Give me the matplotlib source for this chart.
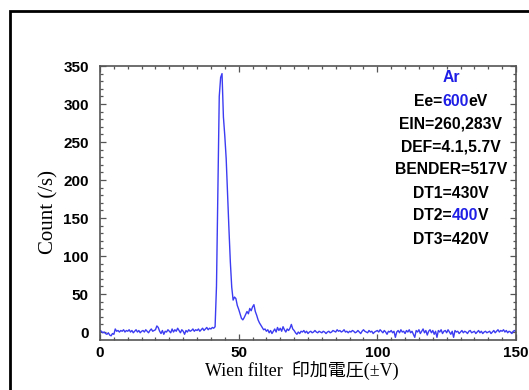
import numpy as np
import matplotlib
matplotlib.use("Agg")
import matplotlib.pyplot as plt
from matplotlib.patches import Rectangle
from matplotlib.offsetbox import TextArea, HPacker, AnnotationBbox

# Wien filter voltage, 0.5 V steps
voltage = np.arange(0, 150.5, 0.5)
counts = [
    2, 1, -1, 0, -2, -3, -1, -4, -5, -2, -3, 4, 1, 2, 0, 2, 1, 3, 0, 2,
    1, 3, 0, 2, -1, 1, 3, 0, 2, -1, 1, 2, 0, 3, 1, -1, 2, 4, 1, 2,
    3, 8, 6, 1, -2, 2, -3, 1, 0, 3, 1, -1, 4, 0, 3, 1, 5, 2, -1, 3,
    1, -3, 2, 0, 3, 1, 2, 4, 1, 3, 2, 4, 1, 3, 5, 2, 4, 6, 3, 5,
    4, 6, 5, 7, 60, 190, 310, 335, 340, 283, 258, 228, 180, 135, 92, 59, 42, 46, 44, 35,
    30, 24, 18, 16, 19, 23, 27, 24, 31, 28, 33, 36, 27, 22, 16, 12, 9, 6, 3, 4,
    1, 3, -1, 2, -2, 1, 4, 0, 6, 2, 5, 1, 7, 3, 0, 4, 2, 5, 10, 4,
    2, -1, -3, 0, -2, 1, 0, 2, -1, 1, -2, 0, 1, -1, 0, 2, 0, -1, 1, 0,
    -1, 1, 0, -2, 0, 1, -1, 0, 2, 1, 0, 3, 1, 2, 0, 1, 3, 0, 1, -1,
    1, 0, 2, 1, -1, 0, 2, 0, -2, 1, 3, 1, 0, -1, 2, 0, 1, -2, 0, 1,
    2, 0, 3, 1, -1, 2, 0, -3, 1, 0, 2, -1, 1, -7, 0, 2, -1, 3, 0, 1,
    -2, 2, 0, 3, -1, 1, -3, -7, 2, 0, 3, -2, 1, 4, -1, 2, -4, 1, 3, -1,
    2, -3, 1, -7, 2, 0, 3, -2, 1, 2, -1, 3, 0, -3, 1, -7, 2, 0, 1, -2,
    0, 2, -1, 1, 0, -2, 1, 2, -1, 0, 1, -2, 0, 2, -1, 1, -2, 0, 1, -1,
    0, 1, -2, 0, 2, -1, 1, 3, 0, 2, 1, 3, 0, 2, -1, 1, 0, -2, 1, 2, 0,
]

# annotation lines: list of (text, highlighted?) pieces
info_lines = [
    [("Ar", True)],
    [("Ee=", False), ("600", True), ("eV", False)],
    [("EIN=260,283V", False)],
    [("DEF=4.1,5.7V", False)],
    [("BENDER=517V", False)],
    [("DT1=430V", False)],
    [("DT2=", False), ("400", True), ("V", False)],
    [("DT3=420V", False)],
]

line_blue = "#3c3cf2"
text_blue = "#1e1ee6"
spine_col = "#555555"
sans = ["Liberation Sans", "DejaVu Sans"]

W, H = 529, 390
fig = plt.figure(figsize=(W / 100, H / 100), dpi=100)
ax = fig.add_axes([100 / W, 1 - 340 / H, 416 / W, 274 / H])

ax.plot(voltage, counts, color=line_blue, lw=1.0)
ax.set_xlim(0, 150)
ax.set_ylim(-10.5, 349)

ax.set_xticks([0, 50, 100, 150])
ax.set_xticks(np.arange(0, 151, 5), minor=True)
ax.set_yticks(np.arange(0, 351, 50))
ax.set_yticks(np.arange(0, 351, 10), minor=True)
ax.tick_params(which="both", direction="in", top=True, right=True, color=spine_col, width=0.9)
ax.tick_params(which="major", length=4.5)
ax.tick_params(which="minor", length=2.3)
ax.tick_params(axis="x", which="major", pad=4)
ax.tick_params(axis="y", which="major", pad=8)
for lab in ax.get_xticklabels() + ax.get_yticklabels():
    lab.set_family(sans)
    lab.set_fontweight("bold")
    lab.set_fontsize(11)
for sp in ax.spines.values():
    sp.set_color(spine_col)
    sp.set_linewidth(1.2)

fig.text(49 / W, 1 - 212 / H, "Count (/s)", rotation=90, ha="center", va="center",
         family=["Liberation Serif", "DejaVu Serif"], fontsize=15)
fig.text(302 / W, 1 - 370 / H, "Wien filter  印加電圧(±V)", ha="center", va="center",
         family=["Liberation Serif", "Noto Sans CJK JP"], fontsize=13)

# parameter block in upper right
y_top = 78
for i, pieces in enumerate(info_lines):
    areas = [TextArea(t, textprops=dict(color=text_blue if hl else "black", family=sans,
                                        fontweight="bold", fontsize=11.3))
             for t, hl in pieces]
    box = HPacker(children=areas, pad=0, sep=0)
    y_px = y_top + i * 23
    ab = AnnotationBbox(box, ((451 - 100) / 416, (340 - y_px) / 274), xycoords="axes fraction",
                        box_alignment=(0.5, 0.5), frameon=False, pad=0)
    ax.add_artist(ab)

# outer frame (image is cropped at right and bottom)
fig.patches.append(Rectangle((10 / W, -0.1), 1.2, (H - 11) / H + 0.1, transform=fig.transFigure,
                             fill=False, lw=2, edgecolor="black"))

fig.savefig("out.png", dpi=100)
